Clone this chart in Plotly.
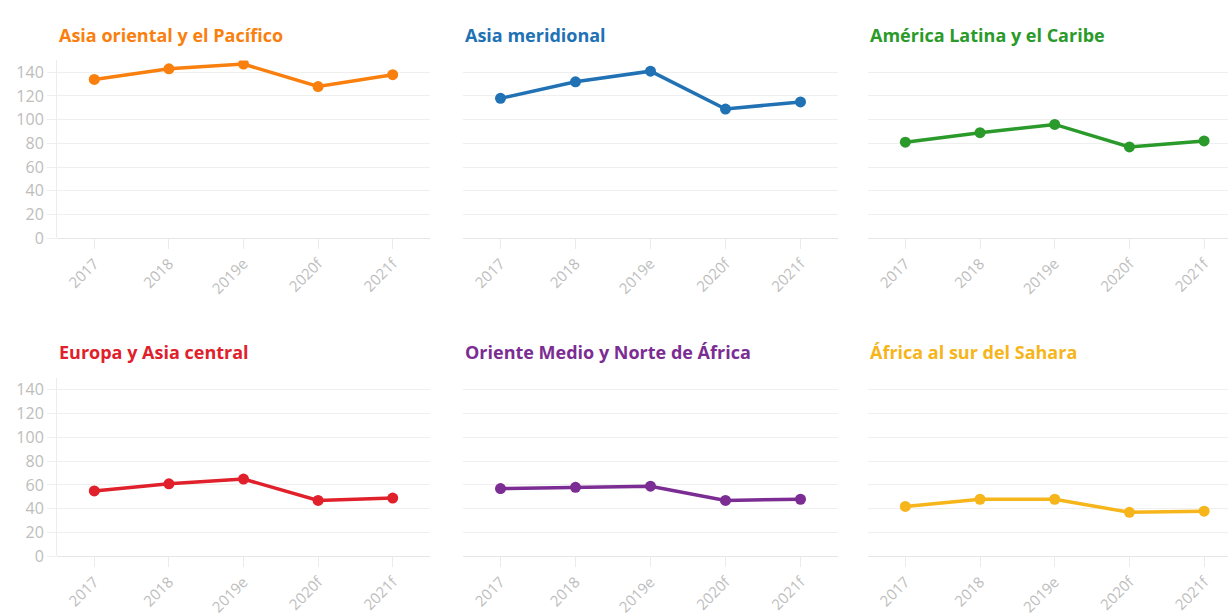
import plotly.graph_objects as go

years = ["2017", "2018", "2019e", "2020f", "2021f"]
regions = [
    "Asia oriental y el Pacífico",
    "Asia meridional",
    "América Latina y el Caribe",
    "Europa y Asia central",
    "Oriente Medio y Norte de África",
    "África al sur del Sahara",
]
east_asia = [134, 143, 147, 128, 138]
south_asia = [118, 132, 141, 109, 115]
latam = [81, 89, 96, 77, 82]
europe = [55, 61, 65, 47, 49]
mena = [57, 58, 59, 47, 48]
ssa = [42, 48, 48, 37, 38]
series = [east_asia, south_asia, latam, europe, mena, ssa]
colors = ["#f9800e", "#2171b5", "#2a9a2a", "#e0202a", "#7b2d93", "#f6b51a"]
y_ticks = [0, 20, 40, 60, 80, 100, 120, 140]

W, H = 1228, 616
SY = 616 / 606  # vertical compensation
# pixel layout of panels
col_px = [(57, 430), (463, 838), (868, 1228)]
row_px = [(61, 240), (381, 561)]
title_px = [35, 355]
x_ranges = [[-0.5, 4.5], [-0.5, 4.5], [-0.5, 4.32]]

fig = go.Figure()
font = "'Open Sans', Lato, sans-serif"

for i, (name, vals, col) in enumerate(zip(regions, series, colors)):
    r, c = divmod(i, 3)
    n = i + 1
    xa = "x" if n == 1 else f"x{n}"
    ya = "y" if n == 1 else f"y{n}"
    fig.add_trace(go.Scatter(
        x=years, y=vals, mode="lines+markers",
        line=dict(color=col, width=3.5),
        marker=dict(color=col, size=11),
        xaxis=xa, yaxis=ya, showlegend=False, hoverinfo="x+y",
    ))
    x0, x1 = col_px[c]
    y0, y1 = row_px[r]
    xdom = [x0 / W, x1 / W]
    ydom = [1 - y1 * SY / H, 1 - y0 * SY / H]
    first = c == 0
    fig.layout[f"xaxis{'' if n == 1 else n}"] = dict(
        domain=xdom, anchor=ya, type="category", range=x_ranges[c],
        showgrid=False, zeroline=False, showline=False,
        ticks="outside", ticklen=10, tickcolor="#ebebeb", tickwidth=1,
        tickangle=-45, tickfont=dict(family=font, size=15, color="#bdbdbd"),
        fixedrange=True,
    )
    fig.layout[f"yaxis{'' if n == 1 else n}"] = dict(
        domain=ydom, anchor=xa, range=[0, 150], tickvals=y_ticks,
        showgrid=True, gridcolor="#efefef", gridwidth=1,
        zeroline=True, zerolinecolor="#e6e6e6", zerolinewidth=1,
        showline=first, linecolor="#ececec", linewidth=1,
        ticks="outside" if first else "", ticklen=9, tickcolor="#efefef",
        showticklabels=first,
        tickfont=dict(family=font, size=16, color="#bdbdbd"),
        fixedrange=True,
    )
    fig.add_annotation(
        text=f"<b>{name}</b>", xref="paper", yref="paper",
        x=x0 / W, y=1 - title_px[r] * SY / H,
        xanchor="left", yanchor="middle", showarrow=False,
        font=dict(family=font, size=18, color=col),
    )

fig.update_layout(
    width=W, height=H, margin=dict(l=0, r=0, t=0, b=0),
    paper_bgcolor="white", plot_bgcolor="white",
)
fig.write_html(
    "out.html",
    config={"displayModeBar": False},
    post_script="document.body.style.margin='0';document.body.style.overflow='hidden';",
)
